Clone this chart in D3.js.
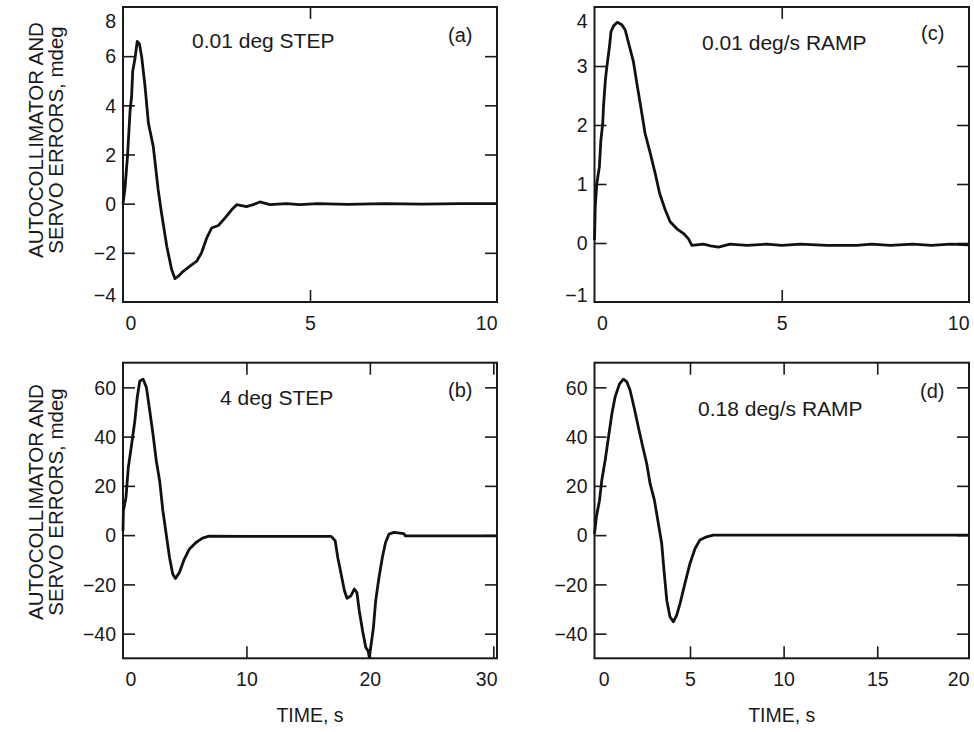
<!DOCTYPE html>
<html>
<head>
<meta charset="utf-8">
<script src="https://cdn.jsdelivr.net/npm/d3@7"></script>
<style>
  html, body { margin: 0; padding: 0; background: #fff; }
  svg { display: block; }
  text { font-family: "Liberation Sans", Arial, Helvetica, sans-serif; fill: #1a1a1a; }
</style>
</head>
<body>
<svg id="chart" width="974" height="732"></svg>
<script>
// ---------------- DATA ----------------
// (a) 0.01 deg STEP
const stepSmallT = [0, 0.05, 0.12, 0.19, 0.23, 0.26, 0.32, 0.38, 0.44, 0.5, 0.59, 0.68, 0.81, 0.94, 1.03, 1.17, 1.3, 1.39, 1.48, 1.61, 1.79, 1.97, 2.1, 2.24, 2.37, 2.55, 2.73, 2.91, 3.04, 3.17, 3.3, 3.48, 3.66, 3.93, 4.37, 4.73, 5.2, 6, 7, 8, 9, 10];
const stepSmallV = [0, 0.57, 1.92, 3.8, 4.35, 5.4, 5.9, 6.6, 6.5, 5.97, 4.76, 3.27, 2.32, 0.57, -0.38, -1.73, -2.68, -3.05, -2.95, -2.75, -2.54, -2.34, -2.0, -1.39, -0.99, -0.89, -0.58, -0.24, -0.04, -0.08, -0.12, -0.04, 0.07, -0.04, 0, -0.04, 0, -0.03, 0, -0.02, 0, 0];

// (c) 0.01 deg/s RAMP
const rampSmallT = [0, 0.02, 0.06, 0.13, 0.17, 0.22, 0.24, 0.29, 0.33, 0.4, 0.44, 0.51, 0.61, 0.73, 0.82, 0.91, 1.04, 1.13, 1.22, 1.35, 1.49, 1.62, 1.74, 1.89, 2.02, 2.2, 2.38, 2.51, 2.6, 2.91, 3.1, 3.31, 3.62, 4.07, 4.6, 5.0, 5.5, 6.2, 7.0, 7.4, 7.9, 8.5, 9.0, 9.5, 10];
const rampSmallV = [0.05, 0.61, 1.0, 1.29, 1.74, 2.03, 2.31, 2.76, 2.99, 3.33, 3.58, 3.68, 3.74, 3.70, 3.61, 3.39, 3.07, 2.71, 2.37, 1.86, 1.52, 1.18, 0.84, 0.56, 0.36, 0.24, 0.16, 0.07, -0.04, -0.02, -0.05, -0.07, -0.02, -0.04, -0.02, -0.04, -0.02, -0.04, -0.04, -0.02, -0.04, -0.02, -0.04, -0.02, -0.03];

// (b) 4 deg STEP
const stepLargeT = [0, 0.03, 0.24, 0.43, 0.7, 0.96, 1.15, 1.36, 1.63, 1.9, 2.17, 2.43, 2.7, 2.97, 3.23, 3.5, 3.77, 4.03, 4.25, 4.57, 4.97, 5.37, 5.91, 6.44, 6.98, 10, 14, 16.87, 17.19, 17.4, 17.67, 17.94, 18.15, 18.47, 18.74, 18.95, 19.14, 19.41, 19.67, 19.86, 19.95, 20.07, 20.29, 20.47, 20.74, 21.01, 21.27, 21.55, 21.95, 22.75, 22.88, 26, 30.3];
const stepLargeV = [1.7, 9.9, 15.3, 27.4, 36.9, 46.4, 55.8, 62.6, 63.3, 59.9, 50.4, 41, 30.1, 22, 9.9, 0.4, -9.1, -15.8, -17.6, -15.2, -9.7, -5.7, -3, -1.2, -0.4, -0.5, -0.5, -0.5, -2.3, -9.1, -15.8, -22.6, -25.6, -24.6, -21.9, -23.3, -30.7, -38.8, -45.6, -47, -49.5, -45.6, -37.5, -26.7, -17.2, -9.1, -3, 0.4, 1.1, 0.6, -0.3, -0.3, -0.3];

// (d) 0.18 deg/s RAMP
const rampLargeT = [-0.1, 0.0, 0.17, 0.29, 0.47, 0.65, 0.83, 1.0, 1.23, 1.44, 1.63, 1.8, 2.01, 2.24, 2.48, 2.69, 2.87, 3.1, 3.31, 3.49, 3.61, 3.76, 3.93, 4.11, 4.29, 4.47, 4.73, 5.0, 5.27, 5.53, 5.89, 6.24, 10, 15, 19.9];
const rampLargeV = [0.5, 7.4, 14.2, 22.3, 30.4, 39.9, 49.4, 56.1, 61.3, 63.3, 62.2, 58.8, 52, 43.9, 35.8, 29, 20.9, 14.2, 4.7, -3.4, -14.2, -26.4, -33.1, -35.2, -32.5, -27.7, -19.6, -11.5, -5.4, -2, -0.7, 0, 0, 0, 0];

// tick values
const xTicksA = [0, 5, 10];
const yTicksA = [-4, -2, 0, 2, 4, 6, 8];
const xTicksC = [0, 5, 10];
const yTicksC = [-1, 0, 1, 2, 3, 4];
const xTicksB = [0, 10, 20, 30];
const yTicksB = [-40, -20, 0, 20, 40, 60];
const xTicksD = [0, 5, 10, 15, 20];
const yTicksD = [-40, -20, 0, 20, 40, 60];

// labels
const panelTags = ["(a)", "(c)", "(b)", "(d)"];
const panelTitles = ["0.01 deg STEP", "0.01 deg/s RAMP", "4 deg STEP", "0.18 deg/s RAMP"];
const yTitleLines = ["AUTOCOLLIMATOR AND", "SERVO ERRORS, mdeg"];
const xTitle = "TIME, s";

// ---------------- LAYOUT ----------------
const panels = [
  { t: stepSmallT, v: stepSmallV, xd: [0, 10], yd: [-4, 8], xt: xTicksA, yt: yTicksA,
    box: [123, 497, 7, 302], tag: panelTags[0], title: panelTitles[0],
    tagPos: [448, 42], titlePos: [192, 48], left: true, bottom: false, yTitleC: 140 },
  { t: rampSmallT, v: rampSmallV, xd: [0, 10], yd: [-1, 4], xt: xTicksC, yt: yTicksC,
    box: [594.5, 969, 7, 302], tag: panelTags[1], title: panelTitles[1],
    tagPos: [921, 40], titlePos: [702, 50], left: false, bottom: false },
  { t: stepLargeT, v: stepLargeV, xd: [0, 30.3], yd: [-50, 70], xt: xTicksB, yt: yTicksB,
    box: [123, 497, 362.7, 658.3], tag: panelTags[2], title: panelTitles[2],
    tagPos: [448, 397], titlePos: [220, 405], left: true, bottom: true, yTitleC: 502 },
  { t: rampLargeT, v: rampLargeV, xd: [-0.1, 19.9], yd: [-50, 70], xt: xTicksD, yt: yTicksD,
    box: [594.5, 969, 362.7, 658.3], tag: panelTags[3], title: panelTitles[3],
    tagPos: [920, 398], titlePos: [698, 416], left: false, bottom: true }
];

const svg = d3.select("#chart");
const TICK = 12;
const tickFont = 19.5;

panels.forEach(p => {
  const [x0, x1, y0, y1] = p.box;
  const x = d3.scaleLinear().domain(p.xd).range([x0, x1]);
  const y = d3.scaleLinear().domain(p.yd).range([y1, y0]);
  const g = svg.append("g");
  const fmt = d3.format("");

  const gb = g.append("g").attr("transform", `translate(0,${y1})`)
    .call(d3.axisBottom(x).tickValues(p.xt).tickSize(-TICK).tickPadding(14).tickFormat(fmt));
  const gt = g.append("g").attr("transform", `translate(0,${y0})`)
    .call(d3.axisTop(x).tickValues(p.xt).tickSize(-TICK).tickFormat(""));
  const gl = g.append("g").attr("transform", `translate(${x0},0)`)
    .call(d3.axisLeft(y).tickValues(p.yt).tickSize(-TICK).tickPadding(7).tickFormat(fmt));
  const gr = g.append("g").attr("transform", `translate(${x1},0)`)
    .call(d3.axisRight(y).tickValues(p.yt).tickSize(-TICK).tickFormat(""));

  [gb, gt, gl, gr].forEach(a => {
    a.select(".domain").remove();
    a.selectAll(".tick line").attr("stroke", "#1a1a1a").attr("stroke-width", 1.6);
    a.selectAll(".tick text").attr("font-size", tickFont).attr("fill", "#1a1a1a")
      .attr("font-family", "Liberation Sans, Arial, sans-serif");
  });
  [gb, gt].forEach(a => a.selectAll(".tick line").attr("display", d => (Math.abs(x(d) - x0) < 3 || Math.abs(x(d) - x1) < 3) ? "none" : null));
  [gl, gr].forEach(a => a.selectAll(".tick line").attr("display", d => (Math.abs(y(d) - y0) < 3 || Math.abs(y(d) - y1) < 3) ? "none" : null));

  const xtN = p.xt.length;
  gb.selectAll(".tick text")
    .attr("text-anchor", (d, i) => i === 0 ? "start" : (i === xtN - 1 ? "end" : "middle"))
    .attr("dx", (d, i) => i === 0 ? 2 : 0)
    .attr("x", (d, i) => (i === xtN - 1) ? (x1 - x(d)) : 0);
  gl.selectAll(".tick text")
    .attr("dy", d => Math.abs(y(d) - y0) < 3 ? "1.05em" : (Math.abs(y(d) - y1) < 3 ? "-0.02em" : "0.35em"));

  g.append("rect").attr("x", x0).attr("y", y0).attr("width", x1 - x0).attr("height", y1 - y0)
    .attr("fill", "none").attr("stroke", "#1a1a1a").attr("stroke-width", 2);

  const pts = p.t.map((tt, i) => [tt, p.v[i]]);
  g.append("path").datum(pts)
    .attr("fill", "none").attr("stroke", "#111").attr("stroke-width", 2.8)
    .attr("stroke-linejoin", "round")
    .attr("d", d3.line().x(d => x(d[0])).y(d => y(d[1])));

  g.append("text").attr("x", p.titlePos[0]).attr("y", p.titlePos[1])
    .attr("font-size", 21).text(p.title);
  g.append("text").attr("x", p.tagPos[0]).attr("y", p.tagPos[1])
    .attr("font-size", 20).text(p.tag);

  if (p.left) {
    yTitleLines.forEach((line, i) => {
      g.append("text")
        .attr("transform", `translate(${43 + i * 19.5},${p.yTitleC}) rotate(-90)`)
        .attr("text-anchor", "middle").attr("font-size", 20.5).text(line);
    });
  }
  if (p.bottom) {
    g.append("text").attr("x", (x0 + x1) / 2).attr("y", y1 + 64)
      .attr("text-anchor", "middle").attr("font-size", 19.5).text(xTitle);
  }
});
</script>
</body>
</html>
